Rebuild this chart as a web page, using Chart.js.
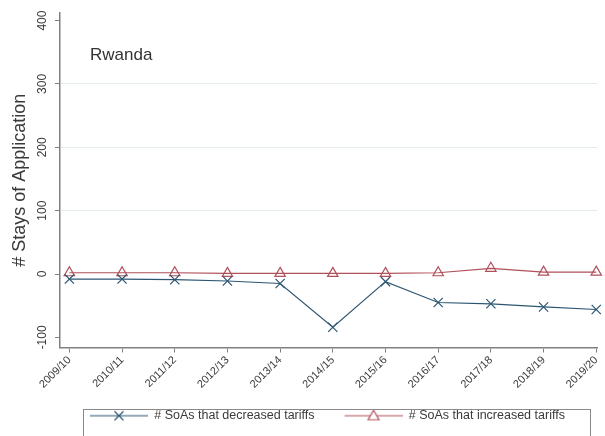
<!DOCTYPE html>
<html>
<head>
<meta charset="utf-8">
<script src="https://cdn.jsdelivr.net/npm/chart.js@4.4.0/dist/chart.umd.min.js"></script>
<style>
  html, body { margin: 0; padding: 0; background: #fff; overflow: hidden; }
  #wrap { width: 605px; height: 436px; position: relative; }
</style>
</head>
<body>
<div id="wrap"><canvas id="chart" width="605" height="436"></canvas></div>
<script>
// Financial years on the horizontal axis
const years = ['2009/10', '2010/11', '2011/12', '2012/13', '2013/14', '2014/15',
               '2015/16', '2016/17', '2017/18', '2018/19', '2019/20'];
// Stays of Application that decreased tariffs (plotted as negative counts)
const decreased = [-8, -8, -9, -11, -15, -84, -12, -45, -47, -52, -56];
// Stays of Application that increased tariffs
const increased = [2, 2, 2, 1, 1, 1, 1, 2, 9, 3, 3];
// Labelled values on the vertical axis
const yTicks = [-100, 0, 100, 200, 300, 400];
// Values that get a light horizontal grid line
const gridValues = [100, 200, 300];

const country = 'Rwanda';
const seriesNames = ['# SoAs that decreased tariffs', '# SoAs that increased tariffs'];

const BLUE = '#2c5672';
const RED = '#b0505a';
const AXIS = '#808080';
const TEXT = '#3a3a3a';
const FONT = "'Liberation Sans', Arial, sans-serif";

// Legend keys: a short line with the series marker in its middle,
// preceded by some empty space that separates the two legend entries
const KEY_GAP = 26;
const KEY_LINE = 58;
function legendKey(color, marker) {
  const c = document.createElement('canvas');
  c.width = KEY_GAP + KEY_LINE; c.height = 14;
  const g = c.getContext('2d');
  const x0 = KEY_GAP, mid = KEY_GAP + KEY_LINE / 2;
  g.strokeStyle = color;
  g.lineWidth = 1.2;
  g.beginPath(); g.moveTo(x0, 7); g.lineTo(x0 + KEY_LINE, 7); g.stroke();
  g.beginPath();
  if (marker === 'cross') {
    g.moveTo(mid - 4.5, 2.5); g.lineTo(mid + 4.5, 11.5);
    g.moveTo(mid + 4.5, 2.5); g.lineTo(mid - 4.5, 11.5);
  } else {
    g.moveTo(mid, 1.5); g.lineTo(mid + 5.5, 11); g.lineTo(mid - 5.5, 11); g.closePath();
    g.fillStyle = '#fff'; g.fill();
  }
  g.stroke();
  return c;
}
const keys = [legendKey(BLUE, 'cross'), legendKey(RED, 'tri')];

// Country name inside the plot region and the frame around the legend
const panelDecor = {
  id: 'panelDecor',
  afterDraw(chart) {
    const { ctx, chartArea, legend } = chart;
    ctx.save();
    ctx.fillStyle = '#333';
    ctx.font = '17px ' + FONT;
    ctx.textBaseline = 'middle';
    ctx.textAlign = 'left';
    ctx.fillText(country, chartArea.left + 30, 55);
    const hb = legend.legendHitBoxes;
    if (hb && hb.length) {
      const first = hb[0], last = hb[hb.length - 1];
      const cy = first.top + first.height / 2;
      const left = first.left + KEY_GAP - 7;
      const right = last.left + last.width + 25;
      ctx.strokeStyle = '#8a8a8a';
      ctx.lineWidth = 1;
      ctx.strokeRect(Math.round(left) + 0.5, Math.round(cy - 7) + 0.5, Math.round(right - left), 40);
    }
    ctx.restore();
  }
};

const toPoints = arr => arr.map((v, i) => ({ x: i, y: v }));

new Chart(document.getElementById('chart'), {
  type: 'line',
  data: {
    datasets: [
      {
        label: seriesNames[0],
        data: toPoints(decreased),
        borderColor: BLUE,
        borderWidth: 1.2,
        pointStyle: 'crossRot',
        pointRadius: 6.5,
        pointBorderWidth: 1.2,
        pointBorderColor: BLUE,
        pointBackgroundColor: 'transparent',
        tension: 0,
        clip: false
      },
      {
        label: seriesNames[1],
        data: toPoints(increased),
        borderColor: RED,
        borderWidth: 1.2,
        pointStyle: 'triangle',
        pointRadius: 6,
        pointBorderWidth: 1.2,
        pointBorderColor: RED,
        pointBackgroundColor: 'transparent',
        tension: 0,
        clip: false
      }
    ]
  },
  options: {
    responsive: false,
    animation: false,
    devicePixelRatio: 1,
    layout: { padding: { top: 13, left: 0, right: 0, bottom: 4 } },
    plugins: {
      tooltip: { enabled: false },
      legend: {
        position: 'bottom',
        align: 'start',
        fullSize: false,
        labels: {
          usePointStyle: true,
          pointStyleWidth: KEY_GAP + KEY_LINE,
          padding: 4,
          color: TEXT,
          font: { family: FONT, size: 12.5 },
          generateLabels: chart => chart.data.datasets.map((ds, i) => ({
            text: ds.label,
            pointStyle: keys[i],
            fillStyle: 'transparent',
            strokeStyle: 'transparent',
            lineWidth: 0,
            hidden: false,
            datasetIndex: i,
            fontColor: TEXT
          }))
        }
      }
    },
    scales: {
      x: {
        type: 'linear',
        min: -0.178,
        max: 10.02,
        afterBuildTicks: s => { s.ticks = years.map((_, i) => ({ value: i })); },
        afterFit: s => { s.height = 58; s.paddingLeft = 0; s.paddingRight = 0; },
        ticks: {
          autoSkip: false,
          minRotation: 45,
          maxRotation: 45,
          padding: 1,
          color: TEXT,
          font: { family: FONT, size: 11 },
          callback: v => years[v]
        },
        grid: { drawOnChartArea: false, drawTicks: true, tickLength: 5, tickColor: AXIS, tickWidth: 1 },
        border: { color: AXIS, width: 1.5 }
      },
      y: {
        type: 'linear',
        min: -116,
        max: 412,
        afterBuildTicks: s => { s.ticks = yTicks.map(v => ({ value: v })); },
        afterFit: s => { s.width = 60; },
        ticks: {
          minRotation: 90,
          maxRotation: 90,
          crossAlign: 'center',
          padding: 0,
          color: TEXT,
          font: { family: FONT, size: 12 },
          callback: v => String(v)
        },
        grid: {
          color: ctx => (ctx.tick && gridValues.includes(ctx.tick.value)) ? '#e4ebee' : 'rgba(0,0,0,0)',
          lineWidth: 1,
          drawTicks: true,
          tickLength: 5,
          tickColor: AXIS,
          tickWidth: 1
        },
        border: { color: AXIS, width: 1.5 },
        title: {
          display: true,
          text: '# Stays of Application',
          color: TEXT,
          font: { family: FONT, size: 18 },
          padding: { top: 9, bottom: 0 }
        }
      }
    }
  },
  plugins: [panelDecor]
});
</script>
</body>
</html>
